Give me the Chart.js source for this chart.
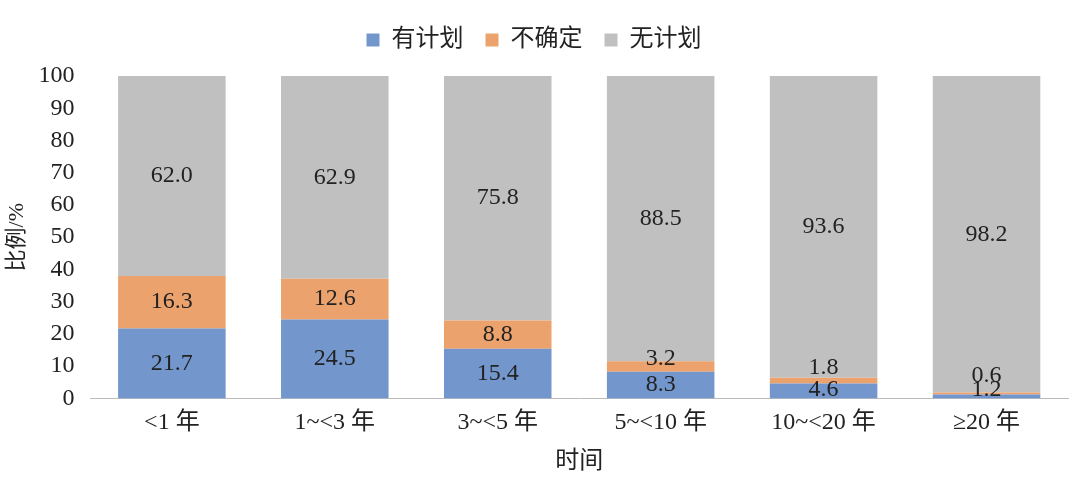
<!DOCTYPE html>
<html><head><meta charset="utf-8">
<script src="https://cdn.jsdelivr.net/npm/chart.js@4"></script>
<style>body{margin:0;background:#fff}</style></head>
<body><canvas id="c" width="1080" height="484"></canvas>
<script>
const categories = ["<1 年","1~<3 年","3~<5 年","5~<10 年","10~<20 年","≥20 年"];
const planned = [21.7,24.5,15.4,8.3,4.6,1.2];
const uncertain = [16.3,12.6,8.8,3.2,1.8,0.6];
const noPlan = [62.0,62.9,75.8,88.5,93.6,98.2];
const seriesNames = ["有计划","不确定","无计划"];
const FONT = '"Liberation Serif","Noto Sans CJK SC",serif';
const labelPlugin = {
  id:'lbl',
  afterDatasetsDraw(chart){
    const ctx=chart.ctx, ys=chart.scales.y;
    ctx.save();
    ctx.font='24px '+FONT;ctx.fillStyle='#222';ctx.textAlign='center';ctx.textBaseline='middle';
    chart.data.datasets.forEach((ds,i)=>{
      chart.getDatasetMeta(i).data.forEach((el,j)=>{
        const v=ds.data[j];
        let y=(el.y+el.base)/2;
        if(i===0 && v<6) y=ys.getPixelForValue(2.8);
        if(i===1 && v<4){const top=planned[j]+v; y=ys.getPixelForValue(Math.max(top+0.9, v<1?7:9.4));}
        ctx.fillText(v.toFixed(1),el.x,y);
      });
    });
    ctx.restore();
  }
};
const legendGap={id:'lg',beforeInit(chart){const f=chart.legend.fit;chart.legend.fit=function(){f.bind(chart.legend)();this.height+=14;};}};
new Chart(document.getElementById('c'),{
  type:'bar',
  data:{labels:categories,datasets:[
    {label:seriesNames[0],data:planned,backgroundColor:'#7396cd'},
    {label:seriesNames[1],data:uncertain,backgroundColor:'#eca26d'},
    {label:seriesNames[2],data:noPlan,backgroundColor:'#c0c0c0'}
  ]},
  options:{responsive:false,devicePixelRatio:1,animation:false,
    layout:{padding:{left:0,right:12,top:6,bottom:4}},
    datasets:{bar:{barPercentage:0.66,categoryPercentage:1}},
    plugins:{legend:{position:'top',labels:{boxWidth:13,boxHeight:13,font:{size:24,family:FONT},color:'#222',padding:22}},tooltip:{enabled:false}},
    scales:{
      x:{stacked:true,grid:{display:false,drawTicks:false},border:{color:'#bbb'},
        ticks:{font:{size:24,family:FONT},color:'#222',padding:10},
        title:{display:true,text:'时间',font:{size:24,family:FONT},color:'#222',padding:{top:0}}},
      y:{stacked:true,min:0,max:100,grid:{display:false},border:{display:false},
        ticks:{stepSize:10,font:{size:24,family:FONT},color:'#222',padding:8},
        title:{display:true,text:'比例/%',font:{size:22,family:FONT},color:'#222',padding:{bottom:0}}}
    }},
  plugins:[labelPlugin,legendGap]
});
</script></body></html>
